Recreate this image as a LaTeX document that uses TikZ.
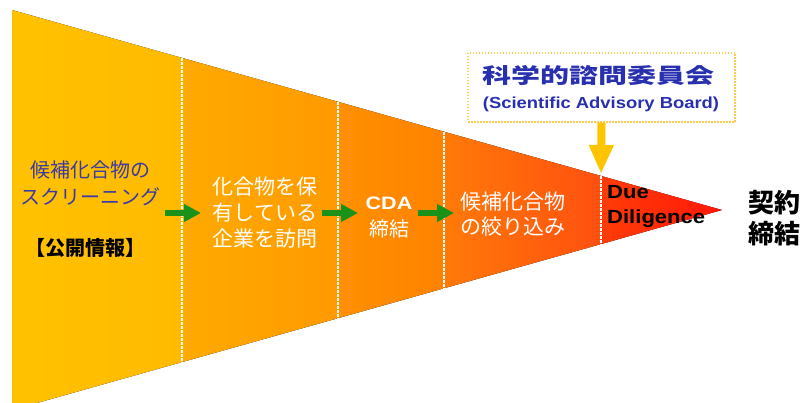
\documentclass[tikz,border=0pt]{standalone}
\usepackage{fontspec}
\setmainfont{Liberation Sans}
\newfontfamily\jp{Noto Sans CJK JP}
\usetikzlibrary{arrows.meta}
\definecolor{c1a}{HTML}{FFC200}
\definecolor{c1b}{HTML}{FFBA00}
\definecolor{c2a}{HTML}{FFAA00}
\definecolor{c2b}{HTML}{FF9A00}
\definecolor{c3a}{HTML}{FF9000}
\definecolor{c3b}{HTML}{FF8200}
\definecolor{c4a}{HTML}{FF7A08}
\definecolor{c4b}{HTML}{FF5010}
\definecolor{c5a}{HTML}{FF3C08}
\definecolor{c5b}{HTML}{FF1808}
\definecolor{jblue}{HTML}{3A3AA8}
\definecolor{tblue}{HTML}{2830B0}
\definecolor{garr}{HTML}{1A921A}
\definecolor{yarr}{HTML}{FFC400}
\definecolor{boxline}{HTML}{FFCC50}
\tikzset{
  divider/.style={white, line width=1.2pt, dash pattern=on 3pt off 1pt},
  jtext/.style={align=center, inner sep=0pt, font=\jp\fontsize{21}{26}\selectfont},
  garrow/.style={garr, line width=6pt, -{Triangle[width=17pt,length=17pt]}},
  yarrow/.style={yarr, line width=8pt, -{Triangle[width=23pt,length=29pt]}},
  sabbox/.style={draw=boxline, fill=white, line width=1.5pt, dash pattern=on 1.5pt off 1.5pt,
     minimum width=267pt, minimum height=69pt, inner sep=0pt}
}
\begin{document}
\begin{tikzpicture}[x=1pt,y=-1pt]
\useasboundingbox (0,0) rectangle (806,403);
\begin{scope}
\clip (0,0) rectangle (806,403);
\fill[left color=c1a,right color=c1b] (12,10) -- (182,57.9) -- (182,362.1) -- (12,410) -- cycle;
\fill[left color=c2a,right color=c2b] (182,57.9) -- (338,101.8) -- (338,318.2) -- (182,362.1) -- cycle;
\fill[left color=c3a,right color=c3b] (338,101.8) -- (444,131.7) -- (444,288.3) -- (338,318.2) -- cycle;
\fill[left color=c4a,right color=c4b] (444,131.7) -- (601,175.9) -- (601,244.1) -- (444,288.3) -- cycle;
\fill[left color=c5a,right color=c5b] (601,175.9) -- (722,210) -- (601,244.1) -- cycle;
\draw[divider] (182,57.9) -- (182,362.1);
\draw[divider] (338,101.8) -- (338,318.2);
\draw[divider] (444,131.7) -- (444,288.3);
\draw[divider] (601,175.9) -- (601,244.1);
\end{scope}

% section texts
\node[jtext, text=jblue, font=\jp\fontsize{20}{27}\selectfont] (s1) at (90,183.5) {候補化合物の\\スクリーニング};
\node[jtext, text=black, font=\jp\bfseries\fontsize{20}{24}\selectfont] (s1b) at (85,248) {【公開情報】};
\node[jtext, text=white] (s2) at (265,213) {化合物を保\\有している\\企業を訪問};
\node[jtext, text=white, font=\bfseries\fontsize{18}{22}\selectfont] (s3a) at (389,203) {\scalebox{1.2}[1]{CDA}};
\node[jtext, text=white, font=\jp\fontsize{20}{24}\selectfont] (s3b) at (389,229) {締結};
\node[jtext, text=white, font=\jp\fontsize{21}{25}\selectfont] (s4) at (513,214.5) {候補化合物\\の絞り込み};
\node[anchor=west, align=left, inner sep=0pt, text=black, font=\bfseries\fontsize{19}{25}\selectfont] (s5) at (607,206) {\scalebox{1.16}[1]{Due}\\\scalebox{1.16}[1]{Diligence}};
\node[jtext, text=black, font=\jp\bfseries\fontsize{26}{31}\selectfont] (fin) at (774,218) {契約\\締結};

% green arrows
\coordinate (g1s) at (165,213); \coordinate (g1e) at (201,213);
\coordinate (g2s) at (322,213); \coordinate (g2e) at (358,213);
\coordinate (g3s) at (418,213); \coordinate (g3e) at (454,213);
\draw[garrow] (g1s) -- (g1e);
\draw[garrow] (g2s) -- (g2e);
\draw[garrow] (g3s) -- (g3e);

% advisory board
\node[sabbox] (sab) at (601.5,87.5) {};
\node[inner sep=0pt, text=tblue, font=\jp\bfseries\fontsize{21}{24}\selectfont] (sabt) at (598.5,75) {\scalebox{1.38}[1]{科学的諮問委員会}};
\node[inner sep=0pt, text=tblue, font=\bfseries\fontsize{16}{20}\selectfont] (sabs) at (601,104) {\scalebox{1.15}[1]{(Scientific Advisory Board)}};
\coordinate (ddtop) at (601,174);
\draw[yarrow] (sab.south) -- (ddtop);
\end{tikzpicture}
\end{document}
